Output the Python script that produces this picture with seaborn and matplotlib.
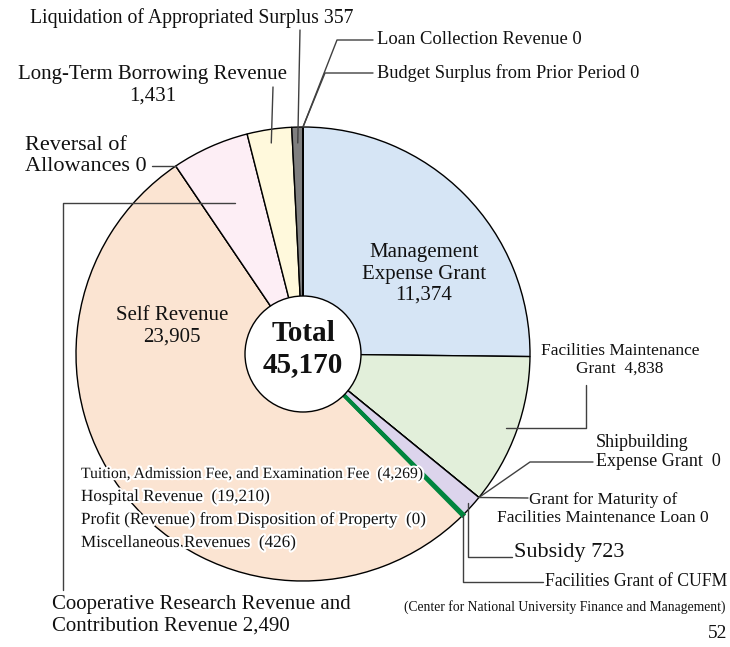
import matplotlib
matplotlib.use("Agg")
import matplotlib.pyplot as plt
import matplotlib.patheffects as pe
import seaborn as sns
import numpy as np

# revenue items, clockwise from the top
categories = [
    "Management Expense Grant", "Facilities Maintenance Grant", "Shipbuilding Expense Grant",
    "Grant for Maturity of Facilities Maintenance Loan", "Subsidy", "Facilities Grant of CUFM",
    "Self Revenue", "Reversal of Allowances", "Cooperative Research Revenue and Contribution Revenue",
    "Long-Term Borrowing Revenue", "Liquidation of Appropriated Surplus",
    "Loan Collection Revenue", "Budget Surplus from Prior Period",
]
values = [11374, 4838, 0, 0, 723, 52, 23905, 0, 2490, 1431, 357, 0, 0]
colors = ["#D6E5F5", "#E2EFDA", "#E2EFDA", "#DCD4EC", "#DCD4EC", "#00853E",
          "#FBE4D2", "#FBE4D2", "#FDEEF5", "#FFF9DC", "#7F7F7F", "#7F7F7F", "#7F7F7F"]
total = 45170
self_breakdown = [
    ("Tuition, Admission Fee, and Examination Fee", 4269),
    ("Hospital Revenue", 19210),
    ("Profit (Revenue) from Disposition of Property", 0),
    ("Miscellaneous Revenues", 426),
]

sns.set_theme(style="white")
plt.rcParams["font.family"] = ["Liberation Serif", "DejaVu Serif"]

W, H = 730, 647
CX, CY, R = 303, 354, 227
fig = plt.figure(figsize=(7.3, 6.47), dpi=100)
ax = fig.add_axes([0, 0, 1, 1])

# y axis is inverted below, so counterclock=True draws clockwise on screen
wedges, _ = ax.pie(values, colors=colors, startangle=-90, counterclock=True,
                   radius=R, center=(CX, CY),
                   wedgeprops=dict(edgecolor="black", linewidth=1))
# the CUFM sliver is too thin to show its fill, so draw it with a green edge
wedges[5].set_edgecolor("#00853E")
wedges[5].set_linewidth(2.6)
wedges[5].set_zorder(2)
ax.set_xlim(0, W)
ax.set_ylim(H, 0)
ax.set_aspect("equal")
ax.axis("off")

ax.add_patch(plt.Circle((CX, CY), 58, facecolor="white", edgecolor="black", lw=1, zorder=3))


def anchor(i, frac=1.0):
    w = wedges[i]
    t = np.deg2rad((w.theta1 + w.theta2) / 2)
    return CX + frac * R * np.cos(t), CY + frac * R * np.sin(t)


LC = "#404040"


def leader(pts):
    xs, ys = zip(*pts)
    ax.plot(xs, ys, color=LC, lw=1, zorder=4)


def txt(x, y, s, size, ha="left", **kw):
    ax.text(x, y, s, fontsize=size, ha=ha, va="center", color="#111111",
            linespacing=1.15, **kw)


# centre
txt(CX, 349, f"Total\n{total:,}", 21, ha="center", fontweight="bold", zorder=5)

# labels inside wedges
txt(424, 274, f"Management\nExpense Grant\n{values[0]:,}", 15, ha="center")
txt(172, 326, f"Self Revenue\n{values[6]:,}", 15, ha="center")

# top labels
txt(30, 18, f"{categories[10]} {values[10]:,}", 14.2)
a = anchor(10, 0.93)
leader([a, (300, 30)])

txt(377, 40, f"{categories[11]} {values[11]}", 13.4)
txt(377, 73, f"{categories[12]} {values[12]}", 13.2)
a = anchor(12, 1.0)
leader([a, (337, 40), (373, 40)])
leader([a, (325, 73), (373, 73)])

txt(153, 85, f"{categories[9]}\n{values[9]:,}", 15, ha="center")
a = anchor(9, 0.94)
leader([a, (273, 87)])

txt(25, 156, f"Reversal of\nAllowances {values[7]}", 16)
a = anchor(7, 1.0)
leader([(152, a[1]), a])

# cooperative research
a = anchor(8, 0.73)
leader([a, (63, a[1]), (63, 590)])
txt(52, 615, f"Cooperative Research Revenue and\nContribution Revenue {values[8]:,}", 15)

# right side labels
txt(620, 360, f"Facilities Maintenance\nGrant  {values[1]:,}", 12.5, ha="center")
a = anchor(1, 0.95)
leader([a, (586, a[1]), (586, 385)])

txt(596, 452, f"Shipbuilding\nExpense Grant  {values[2]}", 13)
a = anchor(2, 1.0)
leader([a, (530, 462), (593, 462)])

txt(603, 509, f"Grant for Maturity of\nFacilities Maintenance Loan {values[3]}", 12.5, ha="center")
leader([a, (528, 498)])

txt(514, 553, f"{categories[4]} {values[4]}", 16)
a = anchor(4, 0.98)
leader([a, (a[0], 557), (512, 557)])

txt(545, 582, categories[5], 12.7)
txt(725, 607, "(Center for National University Finance and Management)", 9.8, ha="right")
txt(727, 634, f"{values[5]}", 14, ha="right")
a = anchor(5, 1.0)
leader([a, (a[0], 582), (543, 582)])

# self revenue breakdown
halo = [pe.withStroke(linewidth=3, foreground="white")]
for k, (name, v) in enumerate(self_breakdown):
    size = 11.3 if k == 0 else 12.3
    txt(81, 474 + 23 * k, f"{name}  ({v:,})", size, path_effects=halo, zorder=5)

fig.savefig("out.png", dpi=100)
